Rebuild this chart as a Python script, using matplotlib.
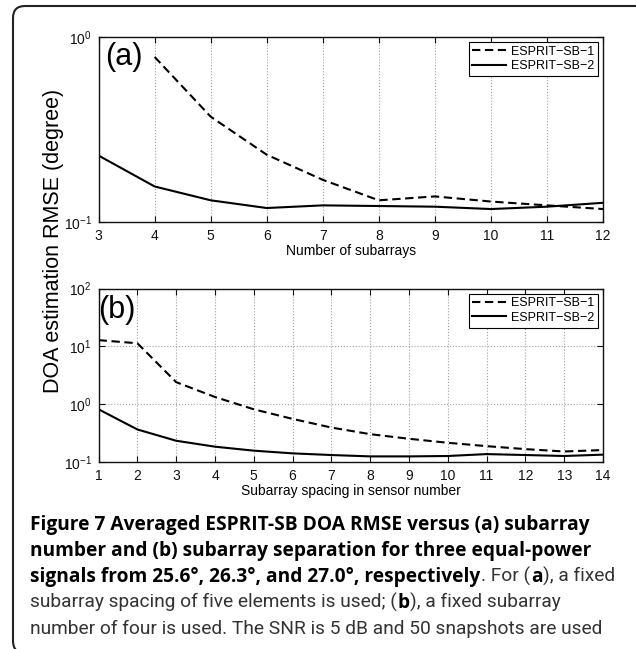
import matplotlib
matplotlib.use("Agg")
import matplotlib.pyplot as plt
from matplotlib.patches import FancyBboxPatch
from matplotlib.ticker import NullLocator

# (a) RMSE vs number of subarrays
n_sub = [3, 4, 5, 6, 7, 8, 9, 10, 11, 12]
n_sub_sb1 = [4, 5, 6, 7, 8, 9, 10, 11, 12]
a_sb1 = [0.78, 0.371, 0.231, 0.169, 0.131, 0.1375, 0.129, 0.123, 0.1175]
a_sb2 = [0.2286, 0.1556, 0.131, 0.119, 0.123, 0.122, 0.121, 0.1175, 0.121, 0.127]

# (b) RMSE vs subarray spacing
spacing = [1, 2, 3, 4, 5, 6, 7, 8, 9, 10, 11, 12, 13, 14]
b_sb1 = [12.8, 11.3, 2.4, 1.33, 0.815, 0.556, 0.394, 0.303, 0.252, 0.215,
         0.188, 0.167, 0.152, 0.161]
b_sb2 = [0.815, 0.365, 0.233, 0.184, 0.157, 0.141, 0.132, 0.125, 0.125, 0.127,
         0.137, 0.132, 0.127, 0.134]

labels = ["ESPRIT\u2212SB\u22121", "ESPRIT\u2212SB\u22122"]

caption = [
    [("Figure 7 Averaged ESPRIT-SB DOA RMSE versus (a) subarray", "bold")],
    [("number and (b) subarray separation for three equal-power", "bold")],
    [("signals from 25.6°, 26.3°, and 27.0°, respectively", "bold"),
     (". For (", "normal"), ("a", "bold"), ("), a fixed", "normal")],
    [("subarray spacing of five elements is used; (", "normal"), ("b", "bold"),
     ("), a fixed subarray", "normal")],
    [("number of four is used. The SNR is 5 dB and 50 snapshots are used", "normal")],
]

plt.rcParams['font.family'] = ['Liberation Sans', 'DejaVu Sans']
plt.rcParams['mathtext.fontset'] = 'custom'
plt.rcParams['mathtext.rm'] = 'Liberation Sans'
plt.rcParams['mathtext.it'] = 'Liberation Sans:italic'
plt.rcParams['mathtext.bf'] = 'Liberation Sans:bold'

W, H = 636, 649
fig = plt.figure(figsize=(W / 100, H / 100), dpi=100)

# rounded frame around the whole figure
box = FancyBboxPatch((0.13, -0.04), 6.40, 6.47, boxstyle="round,pad=0,rounding_size=0.12",
                     transform=fig.dpi_scale_trans, facecolor='none', edgecolor='#222222',
                     linewidth=1.5, clip_on=False)
fig.patches.append(box)


def style_axes(ax):
    ax.set_yscale('log')
    ax.yaxis.set_minor_locator(NullLocator())
    ax.grid(True, which='major', linestyle=':', color='#a0a0a0', linewidth=0.8)
    ax.tick_params(which='major', direction='in', top=True, right=True, length=4,
                   width=0.8, labelsize=10, pad=5, colors='#111111')
    for s in ax.spines.values():
        s.set_linewidth(1.0)
        s.set_color('#111111')


def add_legend(ax):
    leg = ax.legend(loc='upper right', fontsize=9, fancybox=False, framealpha=1,
                    edgecolor='black', handlelength=2.7, handletextpad=0.4,
                    borderpad=0.3, labelspacing=0.2, borderaxespad=0.4)
    leg.get_frame().set_linewidth(0.8)


ax1 = fig.add_axes([98.6 / W, 1 - 222 / H, 504.4 / W, 185 / H])
ax1.plot(n_sub_sb1, a_sb1, color='black', lw=1.5, dashes=(4, 2.2), label=labels[0])
ax1.plot(n_sub, a_sb2, color='black', lw=1.5, label=labels[1])
style_axes(ax1)
ax1.set_xlim(3, 12)
ax1.set_ylim(0.1, 1)
ax1.set_xticks(n_sub)
ax1.set_xlabel("Number of subarrays", fontsize=10, labelpad=1)
ax1.text(0.013, 0.975, "(a)", transform=ax1.transAxes, fontsize=22, va='top', ha='left')
add_legend(ax1)

ax2 = fig.add_axes([98.6 / W, 1 - 462 / H, 504.4 / W, 173.5 / H])
ax2.plot(spacing, b_sb1, color='black', lw=1.5, dashes=(4, 2.2), label=labels[0])
ax2.plot(spacing, b_sb2, color='black', lw=1.5, label=labels[1])
style_axes(ax2)
ax2.set_xlim(1, 14)
ax2.set_ylim(0.1, 100)
ax2.set_xticks(spacing)
ax2.set_xlabel("Subarray spacing in sensor number", fontsize=10, labelpad=1)
ax2.text(0.0, 0.965, "(b)", transform=ax2.transAxes, fontsize=22, va='top', ha='left')
add_legend(ax2)

fig.text(54 / W, 1 - 241 / H, "DOA estimation RMSE (degree)", rotation=90,
         fontsize=15.5, ha='center', va='center')

# caption: bold and regular pieces placed one after another on each baseline
bold_font = ['Open Sans', 'DejaVu Sans']
reg_font = ['Roboto', 'DejaVu Sans']
renderer = fig.canvas.get_renderer()
probe = fig.text(0, 0, caption[0][0][0], fontsize=10, fontweight='bold', family=bold_font)
w10 = probe.get_window_extent(renderer).width
probe.remove()
cap_size = 10 * 559 / w10

x_start = 30
base_first = 530
line_step = 26
for i, pieces in enumerate(caption):
    y = 1 - (base_first + i * line_step) / H
    x = x_start
    for txt, weight in pieces:
        bold = weight == 'bold'
        t = fig.text(x / W, y, txt, fontsize=cap_size, fontweight=weight,
                     family=bold_font if bold else reg_font,
                     color='black' if bold else '#333333', ha='left', va='baseline')
        x = t.get_window_extent(renderer).x1 + 0.8

fig.savefig('out.png', dpi=100)
